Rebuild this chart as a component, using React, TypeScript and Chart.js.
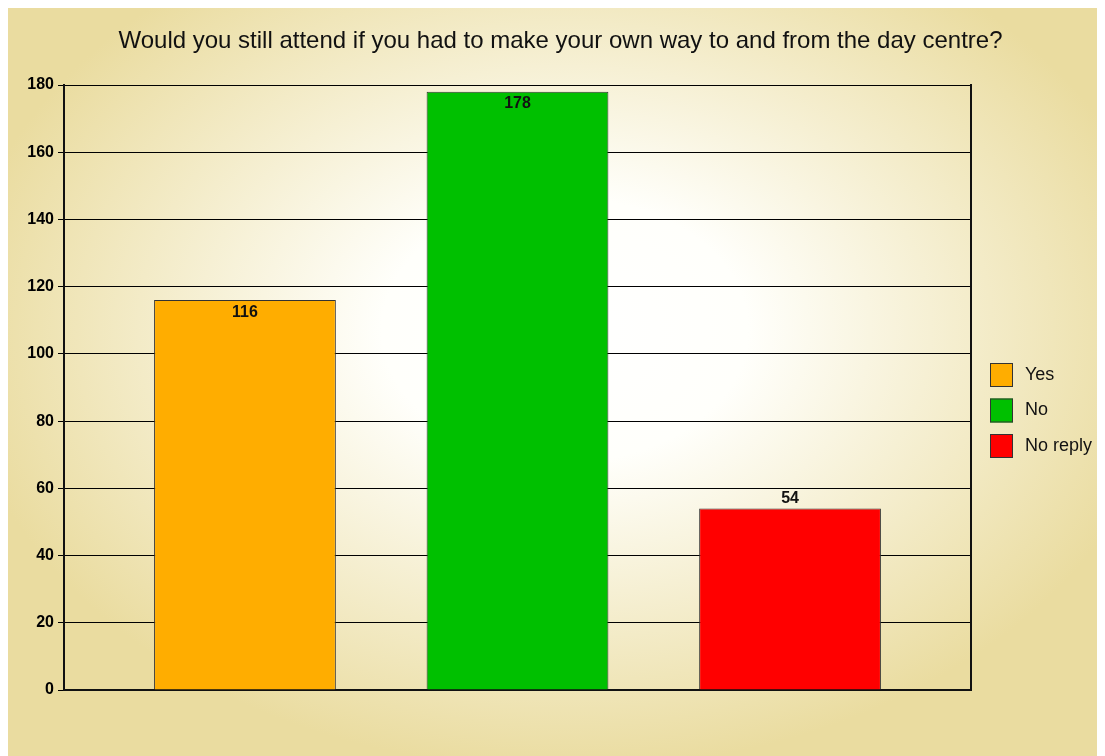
import React, { useEffect, useRef } from "react";
import { Chart, registerables } from "chart.js";

Chart.register(...registerables);

const TITLE = "Would you still attend if you had to make your own way to and from the day centre?";
const categories = ["Yes", "No", "No reply"];
const values = [116, 178, 54];
const barColors = ["#FFAD00", "#00C000", "#FF0000"];
const Y_MIN = 0;
const Y_MAX = 180;
const Y_STEP = 20;

const FONT = "Arial, 'Liberation Sans', sans-serif";
const TAN = "rgb(234,220,160)";
const INK = "#111111";

const backgroundPlugin = {
  id: "bgGradient",
  beforeDraw(chart: any) {
    const { ctx, width, height } = chart;
    ctx.save();
    ctx.fillStyle = TAN;
    ctx.fillRect(0, 0, width, height);
    const cx = 557, cy = 322, rx = 610, ry = 440;
    ctx.translate(cx, cy);
    ctx.scale(1, ry / rx);
    const g = ctx.createRadialGradient(0, 0, 0, 0, 0, rx);
    g.addColorStop(0, "#ffffff");
    g.addColorStop(0.3, "#fffffb");
    g.addColorStop(1, TAN);
    ctx.fillStyle = g;
    ctx.fillRect(-cx, -cy * rx / ry, width, height * rx / ry);
    ctx.restore();
  },
};

const valueLabelPlugin = {
  id: "valueLabels",
  afterDatasetsDraw(chart: any) {
    const { ctx } = chart;
    const meta = chart.getDatasetMeta(0);
    ctx.save();
    ctx.font = `bold 16px ${FONT}`;
    ctx.fillStyle = INK;
    ctx.textAlign = "center";
    meta.data.forEach((bar: any, i: number) => {
      const v = values[i];
      if (v >= 100) {
        ctx.textBaseline = "top";
        ctx.fillText(String(v), bar.x, bar.y + 4);
      } else {
        ctx.textBaseline = "alphabetic";
        ctx.fillText(String(v), bar.x, bar.y - 6);
      }
    });
    ctx.restore();
  },
};

const legendPlugin = {
  id: "sideLegend",
  afterDraw(chart: any) {
    const { ctx, chartArea } = chart;
    const x0 = chartArea.right + 19;
    const y0 = chartArea.top + 278;
    ctx.save();
    categories.forEach((label, i) => {
      const y = y0 + i * 35.5;
      ctx.fillStyle = barColors[i];
      ctx.fillRect(x0, y, 23, 24);
      ctx.strokeStyle = "#333333";
      ctx.lineWidth = 1;
      ctx.strokeRect(x0 + 0.5, y + 0.5, 22, 23);
      ctx.fillStyle = INK;
      ctx.font = `18px ${FONT}`;
      ctx.textAlign = "left";
      ctx.textBaseline = "middle";
      ctx.fillText(label, x0 + 35, y + 12);
    });
    ctx.restore();
  },
};

export default function App() {
  const ref = useRef<HTMLCanvasElement | null>(null);

  useEffect(() => {
    if (!ref.current) return;
    const chart = new Chart(ref.current, {
      type: "bar",
      data: {
        labels: categories,
        datasets: [
          {
            label: "Responses",
            data: values.map((v, i) => ({ x: i, y: v })),
            backgroundColor: barColors,
            borderColor: "#333333",
            borderWidth: 1,
            barPercentage: 0.667,
            categoryPercentage: 1,
          },
        ],
      },
      options: {
        animation: false,
        responsive: false,
        layout: { padding: { left: 8, top: 0, right: 0, bottom: 66 } },
        plugins: {
          legend: { display: false },
          tooltip: { enabled: false },
          title: {
            display: true,
            text: TITLE,
            color: INK,
            font: { family: FONT, size: 24, weight: "normal" },
            padding: { top: 19, bottom: 29.2 },
          },
        },
        scales: {
          x: {
            type: "linear",
            offset: false,
            min: -0.664,
            max: 2.664,
            ticks: { display: false, stepSize: 1, includeBounds: false },
            grid: { display: false, drawTicks: false, offset: false },
            border: { display: true, color: INK, width: 2 },
          },
          y: {
            min: Y_MIN,
            max: Y_MAX,
            ticks: {
              stepSize: Y_STEP,
              color: "#000000",
              padding: 4,
              font: { family: FONT, size: 16, weight: "bold" },
            },
            grid: { color: "#000000", lineWidth: 1, tickLength: 6, drawTicks: true },
            border: { display: true, color: INK, width: 2 },
            afterFit: (s: any) => {
              s.width = 48;
            },
          },
          yR: {
            position: "right",
            display: true,
            ticks: { display: false },
            grid: { display: false, drawTicks: false },
            border: { display: true, color: INK, width: 2 },
            afterFit: (s: any) => {
              s.width = 134;
            },
          },
        },
      } as any,
      plugins: [backgroundPlugin, valueLabelPlugin, legendPlugin],
    });
    return () => chart.destroy();
  }, []);

  return (
    <div style={{ width: 1097, height: 748 }}>
      <canvas ref={ref} width={1097} height={748} style={{ display: "block" }} />
    </div>
  );
}
